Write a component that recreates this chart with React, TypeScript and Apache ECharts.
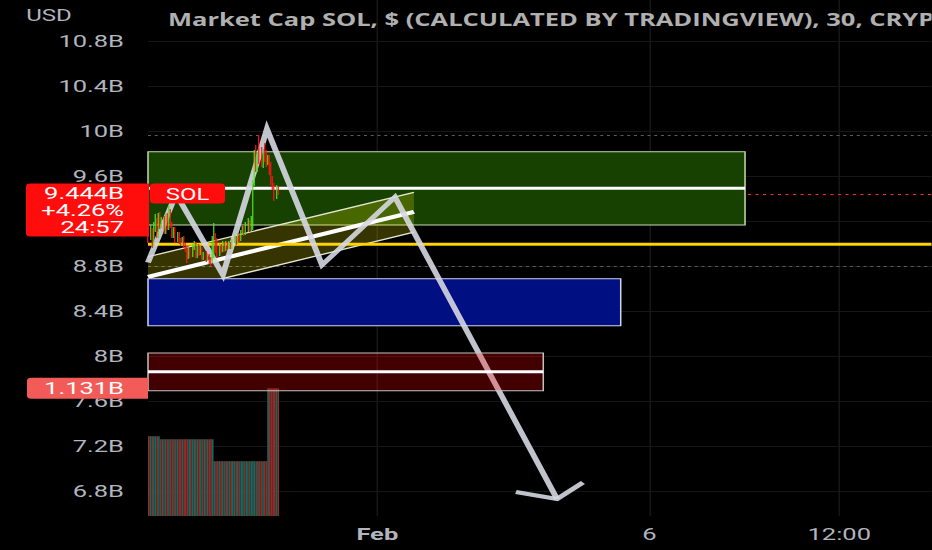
import React, { useEffect, useRef } from 'react';
import * as echarts from 'echarts';

// ---------- data (values in billions of USD, x in 30-minute bar indices) ----------
const opens = [
  9.253, 9.049, 9.120, 9.004, 9.138, 9.209, 9.076, 9.244, 9.156, 9.218,
  9.102, 9.244, 9.138, 9.289, 9.173, 9.067, 9.129, 9.031, 9.084, 9.031,
  8.996, 9.049, 8.987, 8.960, 8.880, 8.942, 8.898, 8.969, 9.004, 8.889,
  8.978, 8.916, 8.951, 8.871, 8.916, 8.862, 8.889, 8.862, 8.836, 8.942,
  9.067, 9.031, 8.907, 8.987, 8.942, 9.004, 8.942, 9.004, 8.960, 9.004,
  8.960, 9.022, 9.058, 9.004, 9.084, 9.031, 9.093, 9.147, 9.084, 9.156,
  9.200, 9.120, 9.164, 9.538, 9.831, 9.671, 9.876, 9.831, 9.698, 9.858,
  9.804, 9.716, 9.769, 9.698, 9.582, 9.520, 9.413, 9.493,
];
const closes = [
  9.049, 9.138, 9.004, 9.156, 9.227, 9.076, 9.244, 9.156, 9.209, 9.102,
  9.244, 9.138, 9.298, 9.164, 9.067, 9.129, 9.031, 9.084, 9.022, 8.996,
  9.049, 8.978, 8.942, 8.871, 8.942, 8.898, 8.978, 9.004, 8.889, 8.978,
  8.916, 8.960, 8.871, 8.916, 8.853, 8.889, 8.836, 8.818, 9.031, 9.102,
  8.942, 8.889, 8.996, 8.933, 9.004, 8.942, 9.013, 8.960, 9.004, 8.960,
  9.031, 9.058, 9.004, 9.084, 9.031, 9.102, 9.147, 9.084, 9.173, 9.209,
  9.120, 9.227, 9.520, 9.813, 9.671, 9.787, 9.724, 9.698, 9.813, 9.742,
  9.698, 9.760, 9.636, 9.547, 9.493, 9.404, 9.493, 9.444,
];
const lows = [
  9.004, 9.031, 8.960, 8.978, 9.102, 9.049, 9.049, 9.129, 9.138, 9.084,
  9.084, 9.120, 9.120, 9.138, 9.049, 9.049, 9.004, 9.013, 8.996, 8.978,
  8.978, 8.960, 8.924, 8.827, 8.862, 8.871, 8.880, 8.942, 8.871, 8.871,
  8.889, 8.898, 8.853, 8.853, 8.836, 8.844, 8.818, 8.800, 8.827, 8.871,
  8.916, 8.871, 8.889, 8.916, 8.924, 8.924, 8.933, 8.951, 8.951, 8.951,
  8.951, 9.004, 8.987, 8.996, 9.013, 9.022, 9.076, 9.067, 9.076, 9.102,
  9.102, 9.111, 9.120, 9.511, 9.636, 9.636, 9.707, 9.680, 9.671, 9.724,
  9.680, 9.698, 9.609, 9.520, 9.476, 9.378, 9.396, 9.431,
];
const highs = [
  9.342, 9.164, 9.138, 9.191, 9.262, 9.227, 9.271, 9.280, 9.236, 9.244,
  9.262, 9.271, 9.342, 9.307, 9.191, 9.147, 9.147, 9.102, 9.102, 9.049,
  9.058, 9.067, 9.004, 8.978, 8.960, 8.960, 8.996, 9.022, 9.013, 8.996,
  8.996, 8.978, 8.969, 8.924, 8.933, 8.907, 8.907, 8.880, 9.067, 9.182,
  9.093, 9.049, 9.004, 8.996, 9.022, 9.013, 9.022, 9.013, 9.022, 9.013,
  9.040, 9.076, 9.067, 9.093, 9.093, 9.120, 9.156, 9.164, 9.191, 9.227,
  9.209, 9.244, 9.564, 9.831, 9.876, 9.813, 9.964, 9.858, 9.831, 9.893,
  9.831, 9.787, 9.787, 9.724, 9.600, 9.538, 9.520, 9.511,
];
const volumes = [
  0.707, 0.707, 0.707, 0.707, 0.707, 0.707, 0.707,
  0.680, 0.680, 0.680, 0.680, 0.680, 0.680, 0.680, 0.680,
  0.680, 0.680, 0.680, 0.680, 0.680, 0.680, 0.680, 0.680,
  0.680, 0.680, 0.680, 0.680, 0.680, 0.680, 0.680, 0.680,
  0.680, 0.680, 0.680, 0.680, 0.680, 0.680, 0.680, 0.680,
  0.486, 0.486, 0.486, 0.486, 0.486, 0.486, 0.486, 0.486,
  0.486, 0.486, 0.486, 0.486, 0.486, 0.486, 0.486, 0.486,
  0.486, 0.486, 0.486, 0.486, 0.486, 0.486, 0.486, 0.486,
  0.486, 0.486, 0.486, 0.486, 0.486, 0.486, 0.486, 0.486,
  1.131, 1.131, 1.131, 1.131, 1.131, 1.131, 1.131,
];

// grid levels, and the price labels that are visible (9.2B sits under the price tag)
const priceTicks = [6.8, 7.2, 7.6, 8, 8.4, 8.8, 9.2, 9.6, 10, 10.4, 10.8];
const priceLabelTicks = [6.8, 7.2, 7.6, 8, 8.4, 8.8, 9.6, 10, 10.4, 10.8];
const timeTickBars = [136, 298, 411];
const timeTickLabels = ['Feb', '6', '12:00'];

// drawings: [fromBar, toBar, top, bottom]
const greenZone = [-0.5, 354.9, 9.815, 9.164];
const greenZoneMid = 9.49;
const blueZone = [-0.5, 280.9, 8.687, 8.269];
const redZone = [-0.5, 234.8, 8.027, 7.692];
const redZoneMid = 7.861;
const yellowLevel = 8.993;
const channelBars = [-0.5, 157.8];
const channelUpper = [8.882, 9.455];
const channelMid = [8.704, 9.282];
const channelLower = [8.527, 9.1];
const zigzagBars = [-0.5, 16.2, 44.1, 70.3, 103.1, 146.5, 243.0];
const zigzagValues = [8.831, 9.44, 8.72, 10.018, 8.809, 9.413, 6.729];
const arrowBars = [218.5, 243.0, 258.4];
const arrowValues = [6.791, 6.729, 6.876];

const symbolName = 'SOL';
const changeText = '+4.26%';
const countdownText = '24:57';
const titleText = 'Market Cap SOL, $ (CALCULATED BY TRADINGVIEW), 30, CRYPTOCAP';
const currencyText = 'USD';

// ---------- axis ranges ----------
const X_MIN = -0.5;
const X_MAX = 466.2;
const PRICE_MIN = 6.578;
const PRICE_MAX = 11.164;
const VOL_MAX = 4.57;

// ---------- layout / style ----------
const STRETCH = 1.5;
const W = 932;
const H = 550;
const INNER_W = W / STRETCH;
const gx = (x: number) => x / STRETCH;

const LABEL_COLOR = '#b2b5be';
const GRID_COLOR = '#161616';
const UP = '#4ee41e';
const DOWN = '#ff1414';
const VOL_UP = '#15695e';
const VOL_DOWN = '#8e2e2b';
const FONT = 'Roboto';

const lastClose = closes[closes.length - 1];
const lastVolume = volumes[volumes.length - 1];
const maxHigh = Math.max(...highs);
const minLow = Math.min(...lows);

const zoneSeries = (zone: number[], fill: string, stroke: string, z: number) => ({
  type: 'custom',
  z,
  silent: true,
  xAxisIndex: 0,
  yAxisIndex: 0,
  data: [[zone[0], zone[2]]],
  renderItem: (_p: any, api: any) => {
    const a = api.coord([zone[0], zone[2]]);
    const b = api.coord([zone[1], zone[3]]);
    return {
      type: 'rect',
      shape: { x: a[0], y: a[1], width: b[0] - a[0], height: b[1] - a[1] },
      style: { fill, stroke, lineWidth: 1 },
    };
  },
});

const levelSeries = (x0: number, x1: number, v: number, color: string, width: number, z: number) => ({
  type: 'line',
  z,
  silent: true,
  symbol: 'none',
  xAxisIndex: 0,
  yAxisIndex: 0,
  data: [[x0, v], [x1, v]],
  lineStyle: { color, width },
  emphasis: { disabled: true },
});

const polySeries = (bars: number[], values: number[], z: number) => ({
  type: 'line',
  z,
  silent: true,
  symbol: 'none',
  xAxisIndex: 0,
  yAxisIndex: 0,
  data: bars.map((b, i) => [b, values[i]]),
  lineStyle: { color: 'rgba(214,216,226,0.9)', width: 4, join: 'miter', miterLimit: 20 },
  emphasis: { disabled: true },
});

const fmtPrice = (v: number) => `${parseFloat(v.toFixed(1))}B`;

const buildOption = () => ({
  animation: false,
  backgroundColor: '#000000',
  grid: [
    { left: gx(148), right: 0, top: 0, bottom: 34, containLabel: false, outerBoundsMode: 'none' },
    { left: gx(148), right: 0, top: 0, bottom: 34, containLabel: false, outerBoundsMode: 'none' },
  ],
  xAxis: [
    { type: 'value', gridIndex: 0, min: X_MIN, max: X_MAX, show: false },
    {
      type: 'value',
      gridIndex: 1,
      min: X_MIN,
      max: X_MAX,
      axisLine: { show: false },
      axisTick: { show: false, customValues: timeTickBars },
      splitLine: { show: false },
      axisLabel: {
        customValues: timeTickBars,
        color: LABEL_COLOR,
        fontSize: 17,
        fontFamily: FONT,
        margin: 10,
        formatter: (v: number) => {
          const i = timeTickBars.indexOf(Math.round(v));
          const t = timeTickLabels[i] ?? '';
          return i === 0 ? `{b|${t}}` : t;
        },
        rich: {
          b: { color: LABEL_COLOR, fontSize: 17, fontFamily: FONT, fontWeight: 'bold' },
        },
      },
    },
  ],
  yAxis: [
    {
      type: 'value',
      gridIndex: 0,
      min: PRICE_MIN,
      max: PRICE_MAX,
      position: 'left',
      axisLine: { show: false },
      axisTick: { show: false, customValues: priceLabelTicks },
      splitLine: { show: false },
      axisLabel: {
        customValues: priceLabelTicks,
        color: LABEL_COLOR,
        fontSize: 17,
        fontFamily: FONT,
        margin: gx(24),
        formatter: fmtPrice,
      },
    },
    { type: 'value', gridIndex: 1, min: 0, max: VOL_MAX, show: false },
  ],
  series: [
    {
      type: 'line',
      z: 0,
      silent: true,
      xAxisIndex: 0,
      yAxisIndex: 0,
      data: [],
      markLine: {
        z: 0,
        silent: true,
        symbol: ['none', 'none'],
        label: { show: false },
        emphasis: { disabled: true },
        data: [
          ...priceTicks.map((v) => ({ yAxis: v, lineStyle: { color: GRID_COLOR, width: 1, type: 'solid' } })),
          ...timeTickBars.map((b) => ({ xAxis: b, lineStyle: { color: GRID_COLOR, width: 1, type: 'solid' } })),
          { yAxis: maxHigh, lineStyle: { color: '#5c5c5c', width: 1, type: [2, 2.5] } },
          { yAxis: minLow, lineStyle: { color: '#5c5c5c', width: 1, type: [2, 2.5] } },
          { yAxis: lastClose, lineStyle: { color: '#ff2a2a', width: 1, type: [2, 3] } },
        ],
      },
    },
    zoneSeries(greenZone, '#174100', '#c3dcae', 1),
    {
      type: 'custom',
      z: 2,
      silent: true,
      xAxisIndex: 0,
      yAxisIndex: 0,
      data: [[channelBars[0], channelUpper[0]]],
      renderItem: (_p: any, api: any) => {
        const u0 = api.coord([channelBars[0], channelUpper[0]]);
        const u1 = api.coord([channelBars[1], channelUpper[1]]);
        const m0 = api.coord([channelBars[0], channelMid[0]]);
        const m1 = api.coord([channelBars[1], channelMid[1]]);
        const l0 = api.coord([channelBars[0], channelLower[0]]);
        const l1 = api.coord([channelBars[1], channelLower[1]]);
        return {
          type: 'group',
          children: [
            { type: 'polygon', shape: { points: [u0, u1, l1, l0] }, style: { fill: 'rgba(255,245,0,0.21)' } },
            { type: 'line', shape: { x1: u0[0], y1: u0[1], x2: u1[0], y2: u1[1] }, style: { stroke: '#e4e6cf', lineWidth: 1.3 } },
            { type: 'line', shape: { x1: l0[0], y1: l0[1], x2: l1[0], y2: l1[1] }, style: { stroke: '#e4e6cf', lineWidth: 1.3 } },
            { type: 'line', shape: { x1: m0[0], y1: m0[1], x2: m1[0], y2: m1[1] }, style: { stroke: '#ffffff', lineWidth: 4 } },
          ],
        };
      },
    },
    zoneSeries(blueZone, '#000f82', '#d4d6e6', 3),
    levelSeries(greenZone[0], greenZone[1], greenZoneMid, '#ffffff', 3, 3),
    levelSeries(X_MIN, X_MAX, yellowLevel, '#ffd200', 3, 3),
    polySeries(zigzagBars, zigzagValues, 4),
    polySeries(arrowBars, arrowValues, 4),
    {
      type: 'candlestick',
      z: 5,
      silent: true,
      xAxisIndex: 0,
      yAxisIndex: 0,
      barWidth: 1,
      data: opens.map((o, i) => [i, o, closes[i], lows[i], highs[i]]),
      encode: { x: 0, y: [1, 2, 3, 4] },
      itemStyle: { color: UP, color0: DOWN, borderColor: UP, borderColor0: DOWN, borderWidth: 0.8 },
    },
    zoneSeries(redZone, 'rgba(255,0,0,0.26)', '#c2c2c2', 6),
    levelSeries(redZone[0], redZone[1], redZoneMid, '#ffffff', 3, 6),
    {
      type: 'bar',
      z: 2,
      silent: true,
      xAxisIndex: 1,
      yAxisIndex: 1,
      barWidth: 1.14,
      data: volumes.map((v, i) => [i, v]),
      itemStyle: {
        color: (p: any) => (closes[p.dataIndex] >= opens[p.dataIndex] ? VOL_UP : VOL_DOWN),
      },
    },
  ],
});

const text = (t: string, x: number, y: number, align: string, extra: any = {}) => ({
  type: 'text',
  x,
  y,
  z: 101,
  silent: true,
  style: {
    text: t,
    fill: '#ffffff',
    fontSize: 17,
    fontFamily: FONT,
    align,
    verticalAlign: 'middle',
    ...extra,
  },
});

const buildGraphic = (yPrice: number, yVol: number) => [
  text(currencyText, gx(49), 16, 'center', { fill: LABEL_COLOR, fontSize: 16 }),
  text(titleText, gx(168), 19, 'left', {
    fill: '#b0b0b0',
    fontSize: 17,
    fontFamily: 'Open Sans',
    fontWeight: 'bold',
  }),
  {
    type: 'rect',
    z: 100,
    silent: true,
    shape: { x: gx(26), y: yPrice - 10, width: gx(149) - gx(26), height: 53, r: [3, 0, 0, 3] },
    style: { fill: '#ff0d0d' },
  },
  text(`${lastClose.toFixed(3)}B`, gx(124), yPrice - 0.5, 'right'),
  text(changeText, gx(124), yPrice + 16.5, 'right'),
  text(countdownText, gx(124), yPrice + 33.5, 'right'),
  {
    type: 'rect',
    z: 100,
    silent: true,
    shape: { x: gx(150), y: yPrice - 10, width: gx(225) - gx(150), height: 20, r: 3 },
    style: { fill: '#ff0d0d' },
  },
  text(symbolName, gx(187.5), yPrice + 0.5, 'center', { fontSize: 16 }),
  {
    type: 'rect',
    z: 100,
    silent: true,
    shape: { x: gx(27), y: yVol - 10.5, width: gx(148) - gx(27), height: 21, r: [3, 0, 0, 3] },
    style: { fill: '#f25b58' },
  },
  text(`${lastVolume.toFixed(3)}B`, gx(124), yVol, 'right'),
];

export default function App() {
  const ref = useRef<HTMLDivElement>(null);
  useEffect(() => {
    document.body.style.margin = '0';
    document.body.style.background = '#000';
    const el = ref.current as HTMLDivElement;
    const chart = echarts.init(el, null, { renderer: 'svg', width: INNER_W, height: H });
    chart.setOption(buildOption() as any);
    const yPrice = chart.convertToPixel({ yAxisIndex: 0 } as any, lastClose) as unknown as number;
    const yVol = chart.convertToPixel({ yAxisIndex: 1 } as any, lastVolume) as unknown as number;
    chart.setOption({ graphic: buildGraphic(yPrice, yVol) } as any);
    return () => chart.dispose();
  }, []);
  return (
    <div
      ref={ref}
      style={{
        position: 'absolute',
        left: 0,
        top: 0,
        width: INNER_W,
        height: H,
        transform: `scaleX(${STRETCH})`,
        transformOrigin: '0 0',
        background: '#000',
        overflow: 'hidden',
      }}
    />
  );
}
